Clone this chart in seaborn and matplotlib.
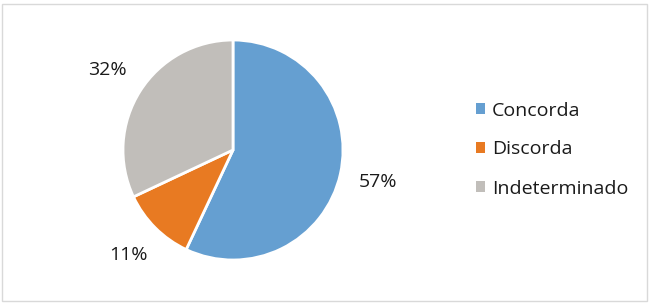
import matplotlib
matplotlib.use("Agg")
import matplotlib.pyplot as plt
import seaborn as sns
from matplotlib.patches import Rectangle, Patch

categories = ["Concorda", "Discorda", "Indeterminado"]
values = [57, 11, 32]
colors = ["#659FD1", "#E87A22", "#C1BEBA"]

sns.set_theme(style="white")
plt.rcParams["font.family"] = ["Open Sans", "DejaVu Sans"]

W, H = 650, 303
fig = plt.figure(figsize=(W / 100, H / 100), dpi=100)
fig.patch.set_facecolor("white")

cx, cy, r = 233, 150, 110
ax = fig.add_axes([(cx - r) / W, (H - cy - r) / H, 2 * r / W, 2 * r / H])
wedges, texts, autotexts = ax.pie(
    values, colors=colors, startangle=90, counterclock=False,
    autopct=lambda p: f"{p:.0f}%", pctdistance=1.35,
    wedgeprops=dict(edgecolor="white", linewidth=2),
    textprops=dict(fontsize=14, color="#1a1a1a"),
)
ax.set_xlim(-1, 1)
ax.set_ylim(-1, 1)
ax.set_aspect("equal")
ax.axis("off")

handles = [Patch(facecolor=c, edgecolor="none") for c in colors]
fig.legend(handles, categories, loc="upper left",
           bbox_to_anchor=(458 / W, 1 - 84 / H), frameon=False,
           fontsize=14, handlelength=0.5, handleheight=0.5,
           handletextpad=0.35, labelspacing=1.08, labelcolor="#1a1a1a")

fig.add_artist(Rectangle((2 / W, 2 / H), 645 / W, 297 / H, transform=fig.transFigure,
                         fill=False, edgecolor="#D9D9D9", linewidth=1))

fig.savefig("out.png", dpi=100, facecolor="white")
